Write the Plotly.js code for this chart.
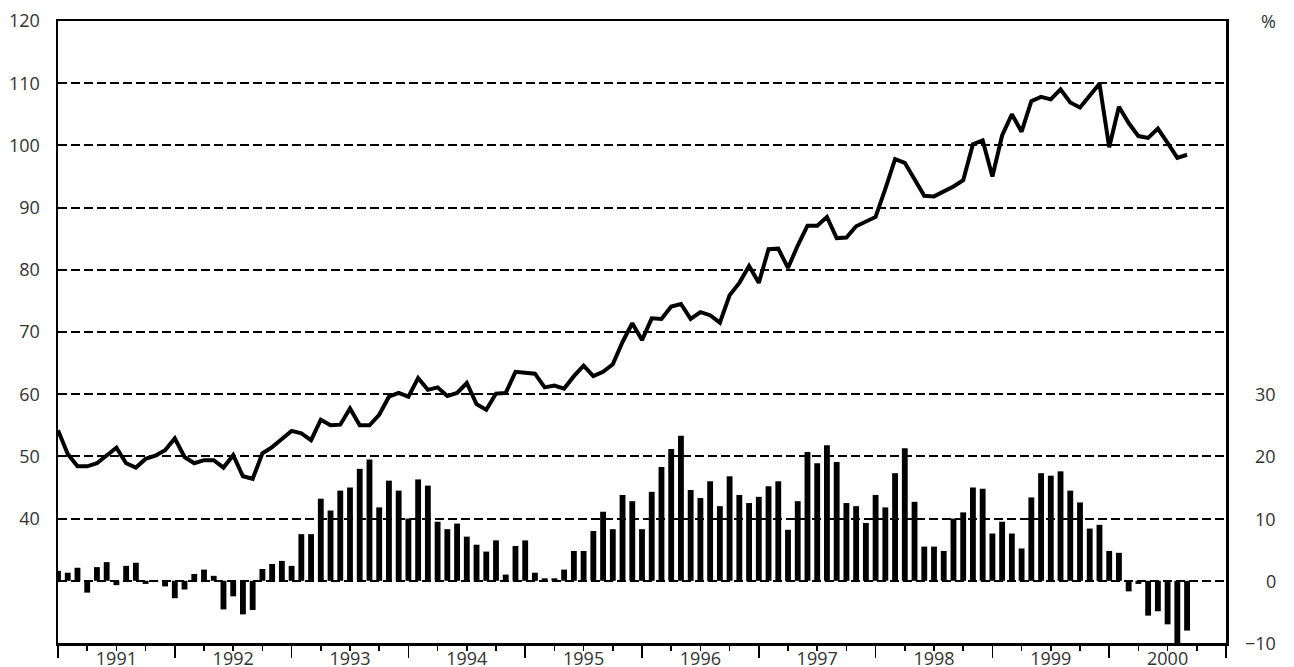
<!DOCTYPE html>
<html>
<head>
<meta charset="utf-8">
<script src="https://cdn.plot.ly/plotly-3.0.1.min.js"></script>
<style>
  body { margin: 0; background: #fff; }
  #chart { width: 1294px; height: 667px; }
</style>
</head>
<body>
<div id="chart"></div>
<script>
//DATA (monthly, Jan 1991 - Sep 2000)
let lineVals = [
  54.2, 50.4, 48.4, 48.4, 48.9, 50.2, 51.4, 48.9, 48.2, 49.6, 50.1, 51.0,
  52.9, 49.9, 48.9, 49.4, 49.4, 48.2, 50.2, 46.8, 46.4, 50.5, 51.5, 52.8,
  54.1, 53.7, 52.6, 55.9, 55.0, 55.1, 57.7, 55.0, 55.0, 56.7, 59.6, 60.2,
  59.6, 62.6, 60.7, 61.1, 59.7, 60.2, 61.8, 58.4, 57.5, 60.1, 60.2, 63.6,
  63.5, 63.3, 61.1, 61.4, 60.9, 62.9, 64.6, 62.9, 63.6, 64.8, 68.4, 71.4,
  68.7, 72.2, 72.1, 74.1, 74.5, 72.1, 73.2, 72.7, 71.5, 75.9, 77.9, 80.6,
  77.9, 83.3, 83.4, 80.3, 83.9, 87.1, 87.1, 88.5, 85.1, 85.2, 87.0, 87.7,
  88.5, 93.0, 97.8, 97.2, 94.5, 91.9, 91.8, 92.6, 93.4, 94.4, 100.2, 100.8,
  95.0, 101.6, 105.0, 102.2, 107.1, 107.8, 107.4, 109.0, 106.9, 106.1, 108.1, 109.9,
  99.7, 106.2, 103.6, 101.5, 101.2, 102.7, 100.4, 98.0, 98.5,
];

let barVals = [
  1.6, 1.3, 2.1, -1.9, 2.2, 3.0, -0.7, 2.4, 2.9, -0.5, -0.2, -0.9,
  -2.8, -1.4, 1.1, 1.8, 0.8, -4.6, -2.5, -5.4, -4.7, 1.9, 2.7, 3.2,
  2.4, 7.5, 7.5, 13.2, 11.3, 14.5, 15.0, 18.0, 19.5, 11.8, 16.1, 14.5,
  10.0, 16.3, 15.3, 9.5, 8.3, 9.2, 7.1, 5.8, 4.7, 6.5, 1.0, 5.6,
  6.5, 1.3, 0.4, 0.4, 1.8, 4.8, 4.8, 8.0, 11.1, 8.3, 13.8, 12.8,
  8.3, 14.3, 18.3, 21.2, 23.3, 14.6, 13.3, 16.0, 12.0, 16.8, 13.8, 12.5,
  13.5, 15.2, 16.0, 8.2, 12.8, 20.7, 18.9, 21.8, 19.1, 12.5, 12.0, 9.3,
  13.8, 11.8, 17.3, 21.3, 12.7, 5.5, 5.5, 4.8, 10.0, 11.0, 15.0, 14.8,
  7.6, 9.5, 7.6, 5.2, 13.4, 17.3, 16.9, 17.6, 14.5, 12.6, 8.4, 9.0,
  4.8, 4.5, -1.7, -0.5, -5.6, -4.9, -7.0, -10.5, -8.0,
];

let years = ["1991", "1992", "1993", "1994", "1995", "1996", "1997", "1998", "1999", "2000"];
let leftTicks = [30, 40, 50, 60, 70, 80, 90, 100, 110, 120];
let rightTicks = [-10, 0, 10, 20, 30];

// month index as x
let months = lineVals.map((v, i) => i);

// quarter ticks (year boundaries come from the minor ticks), label at mid-year
let qVals = [];
let qText = [];
for (let q = 3; q < 120; q += 3) {
  if (q % 12 === 0) continue;
  qVals.push(q);
  qText.push(q % 12 === 6 ? years[(q - 6) / 12] : "");
}

let config = { displayModeBar: false, staticPlot: true };

let textFont = { family: "Open Sans, Lato, sans-serif", size: 18, color: "#333" };

let bars = {
  x: months,
  y: barVals,
  type: "bar",
  width: 0.6,
  yaxis: "y2",
  marker: { color: "#000", line: { width: 0 } },
  hoverinfo: "skip",
};

let line = {
  x: months,
  y: lineVals,
  type: "scatter",
  mode: "lines",
  line: { color: "#000", width: 4, shape: "linear" },
  hoverinfo: "skip",
};

//LAYOUT
let layout = {
  width: 1294,
  height: 667,
  margin: { l: 58, r: 68, t: 21, b: 24 },
  paper_bgcolor: "#fff",
  plot_bgcolor: "#fff",
  showlegend: false,
  font: textFont,
  xaxis: {
    range: [0, 120],
    showline: true,
    linecolor: "#000",
    linewidth: 2.5,
    mirror: true,
    showgrid: false,
    zeroline: false,
    tickmode: "array",
    tickvals: qVals,
    ticktext: qText,
    ticks: "outside",
    ticklen: 5,
    tickwidth: 1.5,
    tickcolor: "#000",
    tickfont: textFont,
    ticklabelstandoff: -7,
    minor: { tick0: 0, dtick: 12, ticks: "outside", ticklen: 12, tickwidth: 1.5, tickcolor: "#000", showgrid: false },
  },
  yaxis: {
    range: [20, 120],
    tickmode: "array",
    tickvals: leftTicks,
    ticktext: leftTicks.map((v) => (v === 30 ? "" : String(v))),
    showgrid: true,
    gridcolor: "#000",
    gridwidth: 2,
    griddash: "9px,4px",
    showline: true,
    linecolor: "#000",
    linewidth: 2.5,
    mirror: true,
    zeroline: false,
    ticks: "",
    ticklabelstandoff: 12,
    tickfont: textFont,
  },
  yaxis2: {
    range: [-10, 90],
    overlaying: "y",
    side: "right",
    showgrid: false,
    zeroline: false,
    showline: false,
    showticklabels: false,
    ticks: "",
  },
  annotations: rightTicks
    .map((v) => ({
      xref: "paper",
      yref: "y2",
      x: 1.0445,
      y: v,
      xanchor: "right",
      yanchor: "middle",
      text: v < 0 ? "\u2212" + Math.abs(v) : String(v),
      showarrow: false,
      font: textFont,
    }))
    .concat([
      {
        xref: "paper",
        yref: "paper",
        x: 1.036,
        y: 1.0,
        xanchor: "center",
        yanchor: "middle",
        text: "%",
        showarrow: false,
        font: textFont,
      },
    ]),
};

Plotly.newPlot(document.getElementById("chart"), [bars, line], layout, config);
</script>
</body>
</html>
